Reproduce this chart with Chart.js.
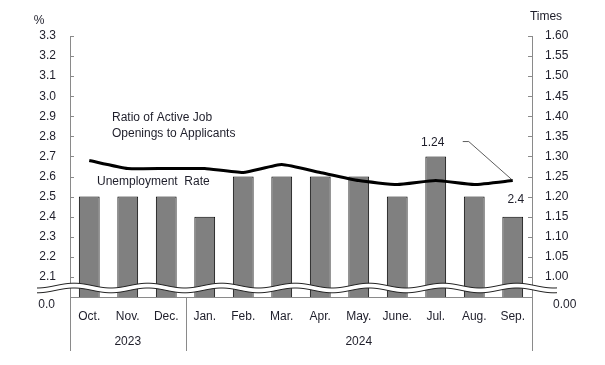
<!DOCTYPE html>
<html>
<head>
<meta charset="utf-8">
<script src="https://cdn.jsdelivr.net/npm/chart.js@4/dist/chart.umd.min.js"></script>
<style>
  html, body { margin: 0; padding: 0; background: #fff; }
  #wrap { width: 605px; height: 365px; }
</style>
</head>
<body>
<div id="wrap"><canvas id="c" width="605" height="365"></canvas></div>
<script>
// ---- data ----
const months = ['Oct.', 'Nov.', 'Dec.', 'Jan.', 'Feb.', 'Mar.', 'Apr.', 'May.', 'June.', 'Jul.', 'Aug.', 'Sep.'];
const yearLabels = ['2023', '2024'];
const yearStartIndex = [0, 3];
const yearEndIndex = [2, 11];
const unemploymentRate = [2.5, 2.5, 2.5, 2.4, 2.6, 2.6, 2.6, 2.6, 2.5, 2.7, 2.5, 2.4];
const jobRatio = [1.29, 1.27, 1.27, 1.27, 1.26, 1.28, 1.26, 1.24, 1.23, 1.24, 1.23, 1.24];
const leftAxisRange = [2.0, 3.3];     // bottom of left axis is a broken axis labelled 0.0
const leftAxisStep = 0.1;
const rightAxisRange = [0.95, 1.60];  // bottom of right axis is a broken axis labelled 0.00
const rightAxisStep = 0.05;
const leftBreakLabel = '0.0';
const rightBreakLabel = '0.00';

const FONT = "'Liberation Sans', Arial, sans-serif";
const TEXT = '#1e1e2a';
const AXIS = '#8a8a8a';
Chart.defaults.font.family = FONT;
Chart.defaults.font.size = 12;
Chart.defaults.color = TEXT;

const decoPlugin = {
  id: 'deco',
  afterDatasetsDraw(chart) {
    const ctx = chart.ctx;
    const a = chart.chartArea;
    const x = chart.scales.x, yL = chart.scales.yL, yR = chart.scales.yR;
    const axisBottom = 351;
    ctx.save();
    ctx.strokeStyle = AXIS;
    ctx.lineWidth = 1;
    // axis lines
    ctx.beginPath();
    ctx.moveTo(a.left + 0.5, a.top); ctx.lineTo(a.left + 0.5, axisBottom);
    ctx.moveTo(a.right + 0.5, a.top); ctx.lineTo(a.right + 0.5, axisBottom);
    ctx.moveTo(a.left, a.bottom + 0.5); ctx.lineTo(a.right, a.bottom + 0.5);
    // inner tick marks
    yL.ticks.forEach(t => {
      if (t.value <= leftAxisRange[0] + 1e-9) return;
      const py = Math.round(yL.getPixelForValue(t.value)) + 0.5;
      ctx.moveTo(a.left, py); ctx.lineTo(a.left + 4, py);
    });
    yR.ticks.forEach(t => {
      if (t.value <= rightAxisRange[0] + 1e-9) return;
      const py = Math.round(yR.getPixelForValue(t.value)) + 0.5;
      ctx.moveTo(a.right - 4, py); ctx.lineTo(a.right, py);
    });
    // year group separators
    for (let g = 1; g < yearLabels.length; g++) {
      const sx = Math.round((x.getPixelForValue(yearStartIndex[g]) + x.getPixelForValue(yearEndIndex[g - 1])) / 2) + 0.5;
      ctx.moveTo(sx, a.bottom); ctx.lineTo(sx, axisBottom);
    }
    ctx.stroke();

    // broken-axis wave
    const x0 = 37, x1 = 557, cy = 288, amp = 2.4, period = 73.8, crest = 74, half = 2.4;
    const wy = (px) => cy - amp * Math.cos((px - crest) * 2 * Math.PI / period);
    ctx.beginPath();
    for (let px = x0; px <= x1; px += 1) { const yy = wy(px) - half; px === x0 ? ctx.moveTo(px, yy) : ctx.lineTo(px, yy); }
    for (let px = x1; px >= x0; px -= 1) { ctx.lineTo(px, wy(px) + half); }
    ctx.closePath();
    ctx.fillStyle = '#ffffff';
    ctx.fill();
    ctx.strokeStyle = '#222';
    ctx.lineWidth = 1;
    ctx.beginPath();
    for (let px = x0; px <= x1; px += 1) { const yy = wy(px) - half; px === x0 ? ctx.moveTo(px, yy) : ctx.lineTo(px, yy); }
    ctx.stroke();
    ctx.beginPath();
    for (let px = x0; px <= x1; px += 1) { const yy = wy(px) + half; px === x0 ? ctx.moveTo(px, yy) : ctx.lineTo(px, yy); }
    ctx.stroke();

    // texts
    ctx.fillStyle = TEXT;
    ctx.font = '12px ' + FONT;
    ctx.textBaseline = 'middle';
    // year labels
    ctx.textAlign = 'center';
    for (let g = 0; g < yearLabels.length; g++) {
      const l = g === 0 ? a.left : (x.getPixelForValue(yearStartIndex[g]) + x.getPixelForValue(yearEndIndex[g - 1])) / 2;
      const r = g === yearLabels.length - 1 ? a.right : (x.getPixelForValue(yearStartIndex[g + 1]) + x.getPixelForValue(yearEndIndex[g])) / 2;
      ctx.fillText(yearLabels[g], (l + r) / 2, 342);
    }
    // axis titles
    ctx.fillText('%', 39, 21);
    ctx.fillText('Times', 546, 17);
    // broken-axis zero labels
    ctx.textAlign = 'right';
    ctx.fillText(leftBreakLabel, 55, 305);
    ctx.textAlign = 'left';
    ctx.fillText(rightBreakLabel, 553, 305);
    // series labels
    ctx.fillText('Ratio of Active Job', 112, 118);
    ctx.fillText('Openings to Applicants', 112, 134);
    ctx.fillText('Unemployment  Rate', 97, 182);

    // last value callouts
    const n = months.length - 1;
    const px = x.getPixelForValue(n);
    const pyR = yR.getPixelForValue(jobRatio[n]);
    const pyL = yL.getPixelForValue(unemploymentRate[n]);
    ctx.textAlign = 'center';
    ctx.fillText(jobRatio[n].toFixed(2), px - 80, pyR - 38);
    ctx.fillText(unemploymentRate[n].toFixed(1), px + 3, pyL - 17);
    ctx.strokeStyle = '#333';
    ctx.lineWidth = 0.8;
    ctx.beginPath();
    ctx.moveTo(px - 50, pyR - 39);
    ctx.lineTo(px - 44, pyR - 39);
    ctx.lineTo(px - 1, pyR - 1);
    ctx.stroke();
    ctx.restore();
  }
};

new Chart(document.getElementById('c'), {
  data: {
    labels: months,
    datasets: [
      {
        type: 'line',
        label: 'Ratio of Active Job Openings to Applicants',
        data: jobRatio,
        yAxisID: 'yR',
        borderColor: '#000',
        borderWidth: 3,
        pointRadius: 0,
        tension: 0.15,
        order: 0
      },
      {
        type: 'bar',
        label: 'Unemployment Rate',
        data: unemploymentRate,
        yAxisID: 'yL',
        backgroundColor: '#808080',
        borderColor: '#000',
        borderWidth: 1,
        borderSkipped: false,
        categoryPercentage: 1,
        barPercentage: 0.54,
        order: 1
      }
    ]
  },
  options: {
    responsive: false,
    animation: false,
    devicePixelRatio: 1,
    layout: { padding: { top: 36, left: 0, right: 0, bottom: 0 } },
    plugins: { legend: { display: false }, tooltip: { enabled: false } },
    scales: {
      x: {
        type: 'category',
        grid: { display: false, drawTicks: false },
        border: { display: false },
        ticks: { padding: 12, maxRotation: 0, autoSkip: false, color: TEXT, font: { size: 12 } },
        afterFit(s) { s.height = 68; }
      },
      yL: {
        position: 'left',
        min: leftAxisRange[0],
        max: leftAxisRange[1],
        grid: { display: false, drawTicks: false },
        border: { display: false },
        ticks: {
          stepSize: leftAxisStep,
          autoSkip: false,
          padding: 14,
          color: TEXT,
          font: { size: 12 },
          callback: (v) => v <= leftAxisRange[0] + 1e-9 ? '' : Number(v).toFixed(1)
        },
        afterFit(s) { s.width = 70; }
      },
      yR: {
        position: 'right',
        min: rightAxisRange[0],
        max: rightAxisRange[1],
        grid: { display: false, drawTicks: false },
        border: { display: false },
        ticks: {
          stepSize: rightAxisStep,
          autoSkip: false,
          padding: 13,
          color: TEXT,
          font: { size: 12 },
          callback: (v) => v <= rightAxisRange[0] + 1e-9 ? '' : Number(v).toFixed(2)
        },
        afterFit(s) { s.width = 73; }
      }
    }
  },
  plugins: [decoPlugin]
});
</script>
</body>
</html>
